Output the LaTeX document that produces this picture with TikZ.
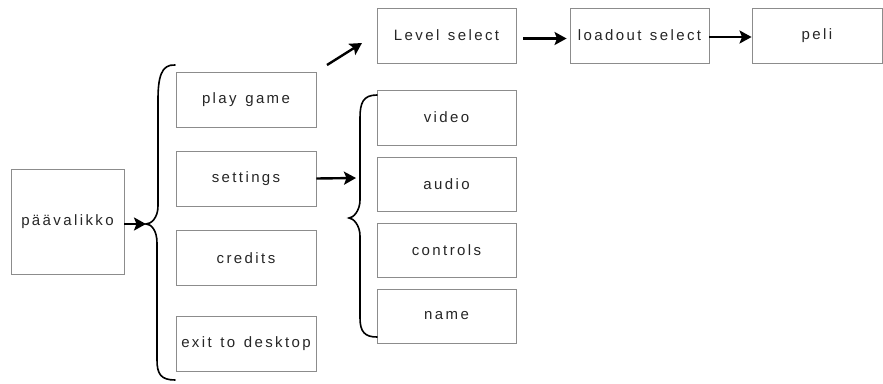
\documentclass[tikz,border=0pt]{standalone}
\usepackage{fontspec}
\setmainfont{Liberation Sans}[LetterSpace=16, WordSpace=1.3]
\usetikzlibrary{arrows.meta}
\definecolor{boxline}{HTML}{8C8C8C}
\definecolor{labeltext}{HTML}{262626}
\tikzset{
  menubox/.style={draw=boxline, line width=0.9pt, fill=white, inner sep=0pt,
    minimum width=139pt, minimum height=55pt, text=labeltext,
    font=\fontsize{15}{17}\selectfont},
  flowarrow/.style={draw=black, line width=2.4pt,
    -{Stealth[length=12pt,width=13pt,inset=2.5pt]}},
  bracket/.style={draw=black, line width=1.6pt, line cap=round}
}
\begin{document}
\begin{tikzpicture}[x=1pt,y=-1pt]
\useasboundingbox (0,0) rectangle (883,383);

% main menu and its entries
\node[menubox, minimum width=113pt, minimum height=105pt] (paa) at (67.5,221.5) {päävalikko};
\node[menubox, minimum width=140pt] (play)     at (246,99.5)  {play game};
\node[menubox, minimum width=140pt] (settings) at (246,178.5) {settings};
\node[menubox, minimum width=140pt] (credits)  at (246,258)   {credits};
\node[menubox, minimum width=140pt] (exit)     at (246,343.5) {exit to desktop};

% game start chain
\node[menubox] (level)   at (446.5,35.5) {Level select};
\node[menubox] (loadout) at (639.5,35.5) {loadout select};
\node[menubox, minimum width=130pt] (peli) at (817,35.5) {peli};

% settings submenu
\node[menubox] (video)    at (446.5,117.5) {video};
\node[menubox, minimum height=54pt] (audio)    at (446.5,184) {audio};
\node[menubox, minimum height=54pt] (controls) at (446.5,250) {controls};
\node[menubox, minimum height=54pt] (name)     at (446.5,316) {name};

% brace tips and free arrow ends
\coordinate (bigtip) at (146,224);
\coordinate (smalltip) at (349,218);
\coordinate (playfrom) at (327,65);
\coordinate (playto) at (362,43);
\coordinate (setto) at (356,178);

% large brace grouping the main entries
\draw[bracket] (175,65) .. controls (161,64) and (158,78) .. (158,100)
  -- (158,206) .. controls (158,218) and (151,224) .. (bigtip)
  .. controls (151,224) and (157,230) .. (157,243)
  -- (157,360) .. controls (157,374) and (161,380) .. (175,380);

% small brace grouping the settings entries
\draw[bracket] (377,95) .. controls (363,95) and (360,103) .. (360,118)
  -- (360,200) .. controls (360,211) and (353,218) .. (smalltip)
  .. controls (353,218) and (360,225) .. (360,236)
  -- (360,318) .. controls (360,332) and (365,337) .. (377,337);

% arrows
\draw[flowarrow] (paa.east |- bigtip) -- (bigtip);
\draw[flowarrow] (playfrom) -- (playto);
\draw[flowarrow] (settings.east) -- (setto);
\draw[flowarrow, shorten <=7pt, shorten >=3pt] ([yshift=-3pt]level.east) -- ([yshift=-3pt]loadout.west);
\draw[flowarrow] ([yshift=-1.5pt]loadout.east) -- ([yshift=-1.5pt]peli.west);
\end{tikzpicture}
\end{document}
